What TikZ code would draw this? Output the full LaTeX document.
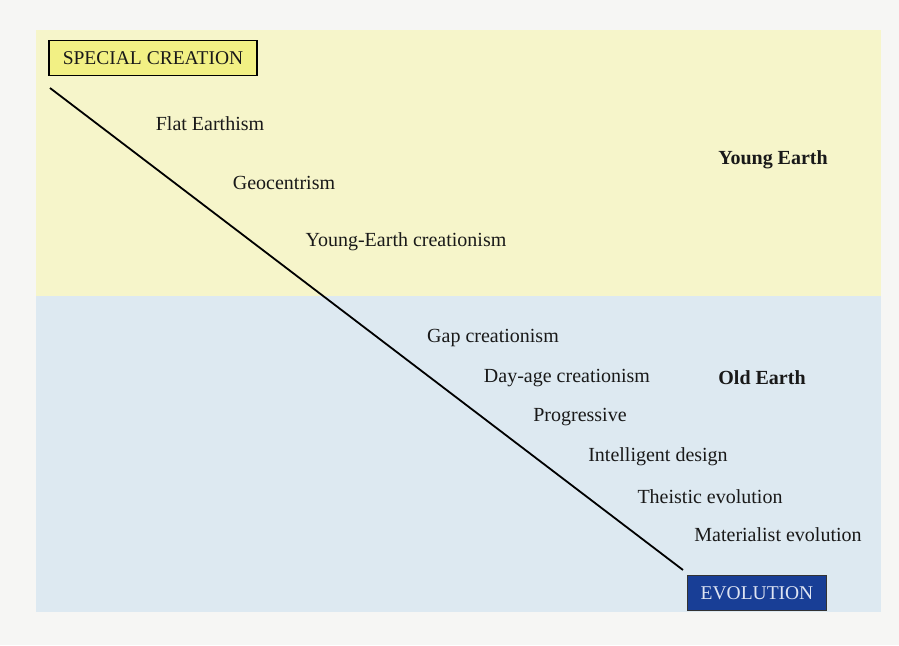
\documentclass[tikz,border=0pt]{standalone}
\usepackage{fontspec}
\setmainfont{Liberation Serif}
\usetikzlibrary{positioning}

\definecolor{pagegray}{RGB}{246,246,244}
\definecolor{youngfill}{RGB}{246,245,202}
\definecolor{oldfill}{RGB}{221,233,241}
\definecolor{creationfill}{RGB}{242,240,132}
\definecolor{evofill}{RGB}{24,62,150}
\definecolor{evotext}{RGB}{222,228,242}

\begin{document}
\begin{tikzpicture}[x=1pt,y=-1pt,
    every node/.style={font=\fontsize{20}{22}\selectfont,inner sep=0pt,text=black!90},
    belief/.style={anchor=center},
    epoch/.style={anchor=center,font=\fontsize{20}{22}\selectfont\bfseries},
    pole/.style={rectangle,draw,line width=1.2pt,minimum width=208pt,minimum height=35pt,
        font=\fontsize{19.5}{21}\selectfont},
    spectrum/.style={line width=1.8pt}
]
\useasboundingbox (0,0) rectangle (899,645);

% Background regions
\fill[pagegray] (0,0) rectangle (899,645);
\fill[youngfill] (36,30) rectangle (881,296);
\fill[oldfill] (36,296) rectangle (881,612);

% Poles
\node[pole,fill=creationfill] (creation) at (153,58) {SPECIAL CREATION};
\node[pole,fill=evofill,text=evotext,minimum width=139pt,draw=black!80] (evolution) at (757,593) {EVOLUTION};

% Spectrum line
\coordinate (top) at (50,88);
\coordinate (bottom) at (683,570);
\draw[spectrum] (top) -- (bottom);

% Beliefs along the line
\node[belief] (flat) at (210,124) {Flat Earthism};
\node[belief] (geo) at (284,183) {Geocentrism};
\node[belief] (yec) at (406,242) {Young-Earth creationism};
\node[belief] (gap) at (493,338) {Gap creationism};
\node[belief] (dayage) at (567,378) {Day-age creationism};
\node[belief] (prog) at (580,417) {Progressive};
\node[belief] (id) at (658,457) {Intelligent design};
\node[belief] (theistic) at (710,497) {Theistic evolution};
\node[belief] (material) at (778,535) {Materialist evolution};

% Ages
\node[epoch] (young) at (773,160) {Young Earth};
\node[epoch] (old) at (762,378) {Old Earth};

\end{tikzpicture}
\end{document}
